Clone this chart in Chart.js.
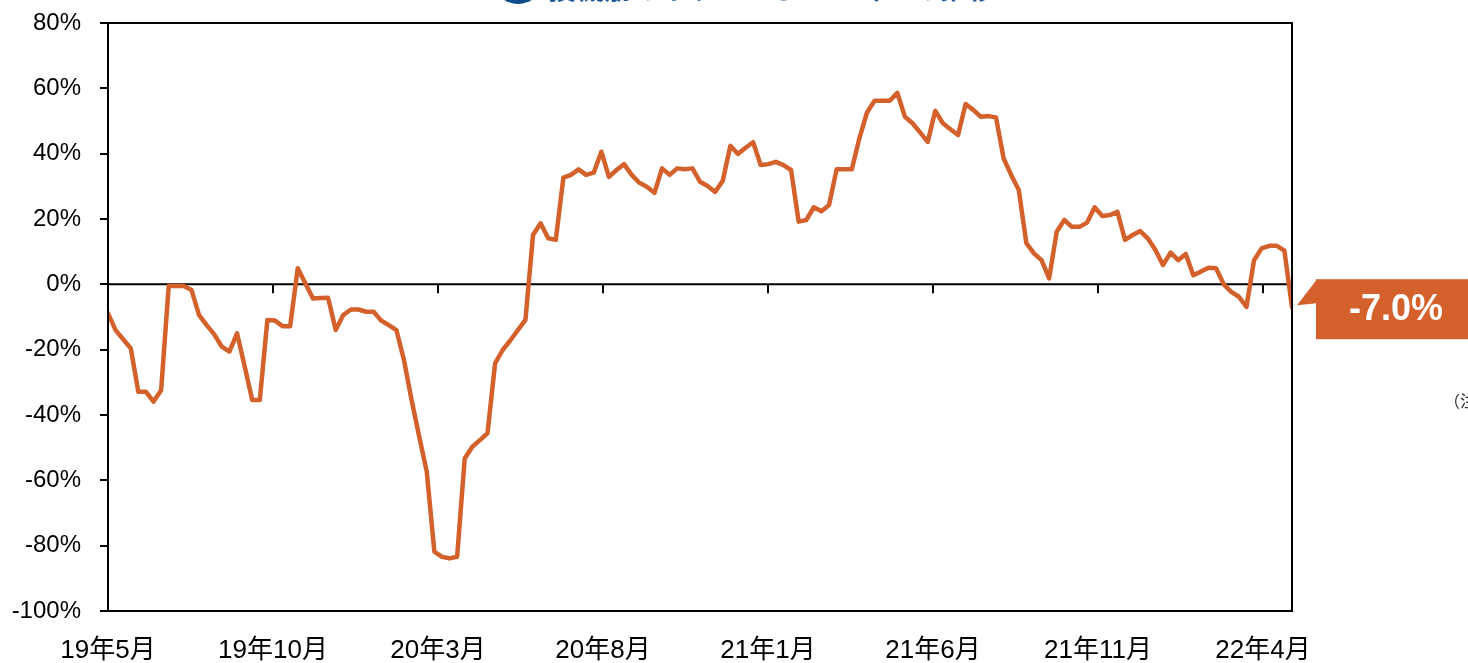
<!DOCTYPE html>
<html><head><meta charset="utf-8">
<script src="https://cdn.jsdelivr.net/npm/chart.js@4.4.1/dist/chart.umd.min.js"></script>
<style>html,body{margin:0;padding:0;background:#fff;overflow:hidden}canvas{display:block}</style>
</head><body>
<canvas id="c" width="1468" height="663"></canvas>
<script>
// weekly values (%), from 19年5月 to 22年4月
const values = [
  -8.9, -14, -16.8, -19.6, -32.9, -32.9, -35.9, -32.4, -0.5, -0.5,
  -0.5, -1.7, -9.4, -12.5, -15.3, -19.1, -20.6, -15, -25, -35.4,
  -35.4, -10.9, -11.1, -12.8, -12.8, 4.9, 0.3, -4.3, -4.2, -4.1,
  -14, -9.4, -7.7, -7.7, -8.4, -8.4, -11.1, -12.5, -14, -23.2,
  -35.4, -46.6, -57.4, -81.8, -83.4, -83.9, -83.4, -53.3, -49.7, -47.7,
  -45.6, -24.2, -20.1, -17.2, -14, -10.9, 15.1, 18.7, 14.1, 13.6,
  32.7, 33.5, 35.2, 33.5, 34.2, 40.6, 32.9, 35, 36.8, 33.5,
  31.1, 29.9, 28, 35.5, 33.5, 35.5, 35.2, 35.5, 31.4, 30.1,
  28.3, 31.7, 42.4, 39.9, 41.8, 43.5, 36.5, 36.8, 37.5, 36.5,
  35, 19.2, 19.7, 23.6, 22.4, 24.3, 35.2, 35.2, 35.2, 44.7,
  52.6, 56.2, 56.2, 56.2, 58.6, 51.3, 49.3, 46.5, 43.6, 53.1,
  49.3, 47.5, 45.7, 55.2, 53.4, 51.3, 51.5, 51.1, 38.6, 33.5,
  28.9, 12.6, 9.5, 7.4, 1.8, 16.1, 19.7, 17.6, 17.6, 18.9,
  23.6, 20.9, 21.2, 22.2, 13.6, 15.1, 16.3, 14.1, 10.5, 5.9,
  9.7, 7.4, 9.3, 2.8, 3.9, 5.1, 4.9, 0, -2.3, -3.8,
  -6.9, 7.4, 11, 11.8, 11.8, 10.3, -7.0
];
const weekIndex = values.map((v, i) => i);           // week number since 19年5月
const tickMonths = [0, 5, 10, 15, 20, 25, 30, 35];   // months since 19年5月
const tickLabels = ['19年5月', '19年10月', '20年3月', '20年8月', '21年1月', '21年6月', '21年11月', '22年4月'];
const WEEKS_PER_MONTH = 52.1786 / 12;
const yMin = -100, yMax = 80, yStep = 20;
const titleText = '投機筋のネット・ポジションの推移';
const noteText = '（注）';

const ORANGE = '#D4612B';
const FONT = "'Liberation Sans', 'Noto Sans CJK JP', Arial, sans-serif";

const decor = {
  id: 'decor',
  beforeDatasetsDraw(chart) {
    const {ctx, chartArea: a, scales: {x, y}} = chart;
    const y0 = y.getPixelForValue(0);
    ctx.save();
    ctx.strokeStyle = '#000';
    ctx.lineWidth = 2;
    ctx.beginPath();
    ctx.moveTo(a.left, y0); ctx.lineTo(a.right, y0);
    tickMonths.forEach(m => {
      const px = Math.round(x.getPixelForValue(m * WEEKS_PER_MONTH));
      if (px > a.left + 2) { ctx.moveTo(px, y0); ctx.lineTo(px, y0 + 9); }
    });
    ctx.stroke();
    ctx.restore();
  },
  afterDraw(chart) {
    const {ctx, chartArea: a, scales: {x, y}} = chart;
    ctx.save();
    // frame
    ctx.strokeStyle = '#000';
    ctx.lineWidth = 2;
    ctx.strokeRect(a.left, a.top, a.right - a.left, a.bottom - a.top);
    // last value callout
    const n = values.length - 1;
    const px = x.getPixelForValue(weekIndex[n]);
    const py = y.getPixelForValue(values[n]);
    const bl = px + 24, bt = py - 28, bh = 60, bw = 170;
    ctx.fillStyle = ORANGE;
    ctx.fillRect(bl, bt, bw, bh);
    ctx.beginPath();
    ctx.moveTo(px + 5, py - 2);
    ctx.lineTo(bl + 1, bt);
    ctx.lineTo(bl + 1, py - 4);
    ctx.closePath();
    ctx.fill();
    ctx.fillStyle = '#fff';
    ctx.font = "bold 36px 'Liberation Sans', Arial, sans-serif";
    ctx.textAlign = 'center';
    ctx.textBaseline = 'middle';
    ctx.fillText(values[n].toFixed(1) + '%', bl + 80, py + 3);
    // title (cut at the top of the picture)
    ctx.fillStyle = '#0E4C8C';
    ctx.beginPath();
    ctx.arc(518, -21, 25, 0, Math.PI * 2);
    ctx.fill();
    ctx.fillStyle = '#1B5A9B';
    ctx.font = "bold 28px 'Noto Sans CJK JP', sans-serif";
    ctx.textAlign = 'left';
    ctx.textBaseline = 'alphabetic';
    ctx.fillText(titleText, 548, -1);
    // note
    ctx.fillStyle = '#333';
    ctx.font = "16px 'Noto Sans CJK JP', sans-serif";
    ctx.textBaseline = 'middle';
    ctx.fillText(noteText, 1444, 401);
    ctx.restore();
  }
};

new Chart(document.getElementById('c'), {
  type: 'line',
  data: {
    datasets: [{
      data: weekIndex.map((w, i) => ({x: w, y: values[i]})),
      borderColor: ORANGE,
      borderWidth: 4.5,
      pointRadius: 0,
      tension: 0,
      borderJoinStyle: 'round',
      borderCapStyle: 'round',
      fill: false
    }]
  },
  options: {
    responsive: false,
    animation: false,
    events: [],
    layout: {padding: {top: 23, right: 176, left: 0, bottom: 0}},
    plugins: {legend: {display: false}, tooltip: {enabled: false}},
    scales: {
      x: {
        type: 'linear',
        min: 0,
        max: weekIndex[weekIndex.length - 1],
        afterBuildTicks: s => { s.ticks = tickMonths.map(m => ({value: m * WEEKS_PER_MONTH})); },
        afterFit: s => { s.height = 52; s.paddingLeft = 0; s.paddingRight = 0; },
        grid: {display: false, drawTicks: false},
        border: {display: false},
        ticks: {
          autoSkip: false, maxRotation: 0, padding: 24,
          color: '#000',
          font: {family: FONT, size: 26},
          callback: (v, i) => tickLabels[i]
        }
      },
      y: {
        min: yMin, max: yMax,
        afterFit: s => { s.width = 108; s.paddingTop = 0; s.paddingBottom = 0; },
        grid: {drawOnChartArea: false, tickLength: 8, color: '#000', lineWidth: 2},
        border: {display: true, color: '#000', width: 2},
        ticks: {
          stepSize: yStep, padding: 19, color: '#000',
          font: {family: FONT, size: 24},
          callback: v => v + '%'
        }
      }
    }
  },
  plugins: [decor]
});
</script>
</body></html>
